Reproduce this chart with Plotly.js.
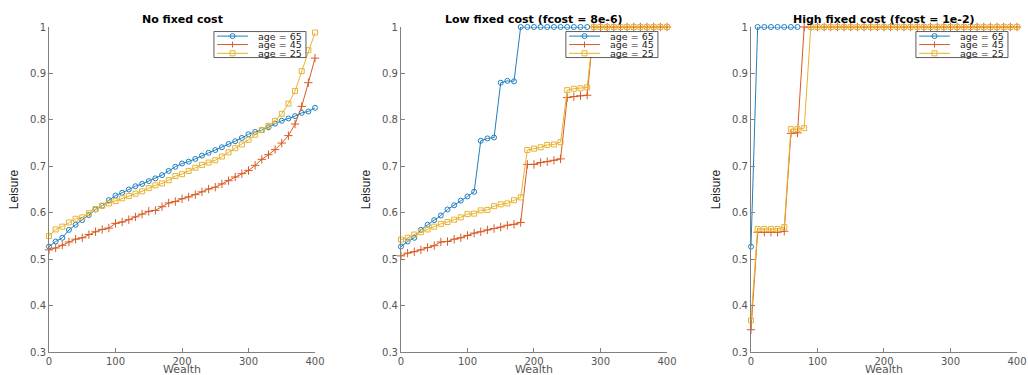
<!DOCTYPE html>
<html>
<head>
<meta charset="utf-8">
<script src="https://cdn.plot.ly/plotly-3.0.1.min.js"></script>
<style>html,body{margin:0;padding:0;background:#fff;}#chart{width:1028px;height:375px;}</style>
</head>
<body>
<div id="chart"></div>
<script>
// ---- data ----
const wealth = [0,10,20,30,40,50,60,70,80,90,100,110,120,130,140,150,160,170,180,190,200,210,220,230,240,250,260,270,280,290,300,310,320,330,340,350,360,370,380,390,400];

const seriesNames = ['age = 65', 'age = 45', 'age = 25'];
const panelTitles = ['No fixed cost', 'Low fixed cost (fcost = 8e-6)', 'High fixed cost (fcost = 1e-2)'];
const xTitle = 'Wealth';
const yTitle = 'Leisure';
const xTickVals = [0, 100, 200, 300, 400];
const xTickText = ['0', '100', '200', '300', '400'];
const yTickVals = [0.3, 0.4, 0.5, 0.6, 0.7, 0.8, 0.9, 1];
const yTickText = ['0.3', '0.4', '0.5', '0.6', '0.7', '0.8', '0.9', '1'];

// No fixed cost
const noCost65 = [0.527,0.538,0.546,0.563,0.574,0.584,0.595,0.607,0.615,0.627,0.637,0.643,0.650,0.657,0.662,0.668,0.674,0.681,0.690,0.699,0.706,0.710,0.716,0.723,0.729,0.735,0.741,0.748,0.754,0.761,0.769,0.774,0.778,0.784,0.792,0.798,0.803,0.808,0.815,0.818,0.826];
const noCost45 = [0.520,0.524,0.530,0.537,0.543,0.546,0.553,0.559,0.564,0.567,0.577,0.580,0.585,0.591,0.597,0.603,0.605,0.613,0.621,0.624,0.630,0.634,0.639,0.645,0.651,0.655,0.662,0.669,0.677,0.684,0.691,0.702,0.715,0.725,0.736,0.750,0.766,0.791,0.829,0.880,0.933];
const noCost25 = [0.550,0.564,0.570,0.579,0.587,0.590,0.599,0.608,0.615,0.620,0.625,0.631,0.636,0.641,0.646,0.653,0.659,0.663,0.670,0.679,0.683,0.690,0.697,0.703,0.708,0.713,0.721,0.730,0.739,0.747,0.757,0.768,0.778,0.787,0.798,0.813,0.835,0.862,0.905,0.950,0.988];

// Low fixed cost
const lowWealth65 = [0,10,20,30,40,50,60,70,80,90,100,110,120,130,140,150,160,170,180,190,200,210,220,230,240,250,260,270,280];
const lowCost65 = [0.527,0.538,0.546,0.563,0.574,0.584,0.594,0.607,0.616,0.626,0.635,0.645,0.755,0.760,0.762,0.880,0.884,0.883,1,1,1,1,1,1,1,1,1,1,1];
const lowCost45 = [0.507,0.513,0.516,0.520,0.525,0.529,0.537,0.538,0.543,0.546,0.551,0.556,0.559,0.563,0.566,0.569,0.573,0.575,0.579,0.704,0.704,0.708,0.710,0.713,0.716,0.848,0.850,0.852,0.853,1,1,1,1,1,1,1,1,1,1,1,1];
const lowCost25 = [0.542,0.546,0.553,0.558,0.564,0.570,0.576,0.580,0.585,0.590,0.597,0.598,0.605,0.606,0.614,0.618,0.620,0.627,0.633,0.735,0.738,0.741,0.746,0.747,0.752,0.864,0.867,0.868,0.870,1,1,1,1,1,1,1,1,1,1,1,1];

// High fixed cost
const highWealth65 = [0,10,20,30,40,50,60,70];
const highCost65 = [0.527,1,1,1,1,1,1,1];
const highCost45 = [0.348,0.558,0.558,0.558,0.558,0.560,0.771,0.772,1,1,1,1,1,1,1,1,1,1,1,1,1,1,1,1,1,1,1,1,1,1,1,1,1,1,1,1,1,1,1,1,1];
const highCost25 = [0.368,0.565,0.565,0.565,0.565,0.569,0.780,0.780,0.782,1,1,1,1,1,1,1,1,1,1,1,1,1,1,1,1,1,1,1,1,1,1,1,1,1,1,1,1,1,1,1,1];

// ---- styling ----
const colors = ['#1f7fc0', '#d95b24', '#e8b32e'];
const symbols = ['circle-open', 'cross-thin-open', 'square-open'];
const markerSizes = [5, 6, 5];
const axisGrey = '#808080';
const tickFontColor = '#555555';

const panels = [
  {x: [wealth, wealth, wealth], y: [noCost65, noCost45, noCost25]},
  {x: [lowWealth65, wealth, wealth], y: [lowCost65, lowCost45, lowCost25]},
  {x: [highWealth65, wealth, wealth], y: [highCost65, highCost45, highCost25]}
];

const traces = [];
panels.forEach((p, pi) => {
  const sfx = pi === 0 ? '' : String(pi + 1);
  for (let s = 0; s < 3; s++) {
    traces.push({
      type: 'scatter', mode: 'lines+markers',
      x: p.x[s], y: p.y[s], name: seriesNames[s],
      xaxis: 'x' + sfx, yaxis: 'y' + sfx,
      cliponaxis: false, showlegend: false,
      line: {color: colors[s], width: 1},
      marker: {symbol: symbols[s], size: markerSizes[s], color: colors[s], line: {color: colors[s], width: 1}}
    });
  }
});

const plotW = 266, plotH = 325;
const domains = [[0, 0.2748], [0.3636, 0.6384], [0.7252, 1.0]];

const layout = {
  width: 1028, height: 375,
  margin: {l: 49, r: 11, t: 27, b: 23, pad: 0},
  paper_bgcolor: '#ffffff', plot_bgcolor: '#ffffff',
  showlegend: false,
  font: {family: 'DejaVu Sans', size: 10, color: tickFontColor},
  shapes: [], annotations: []
};

domains.forEach((d, pi) => {
  const sfx = pi === 0 ? '' : String(pi + 1);
  layout['xaxis' + sfx] = {
    domain: d, range: [0, 400], anchor: 'y' + sfx,
    tickvals: xTickVals, ticktext: xTickText,
    ticks: 'inside', ticklen: 4, tickwidth: 1, tickcolor: axisGrey,
    showline: true, linecolor: axisGrey, linewidth: 1, mirror: false,
    showgrid: false, zeroline: false, automargin: false,
    tickfont: {family: 'DejaVu Sans', size: 10, color: tickFontColor}
  };
  layout['yaxis' + sfx] = {
    domain: [0, 1], range: [0.3, 1], anchor: 'x' + sfx,
    tickvals: yTickVals, ticktext: yTickText,
    ticks: 'inside', ticklen: 4, tickwidth: 1, tickcolor: axisGrey,
    showline: true, linecolor: axisGrey, linewidth: 1, mirror: false,
    showgrid: false, zeroline: false, automargin: false,
    tickfont: {family: 'DejaVu Sans', size: 10, color: tickFontColor},
    title: {text: yTitle, standoff: 8, font: {family: 'Liberation Sans Narrow, Liberation Sans, sans-serif', size: 12, color: '#222222'}}
  };

  const xr = 'x' + sfx + ' domain', yr = 'y' + sfx + ' domain';
  // subplot title
  layout.annotations.push({
    xref: xr, yref: yr, x: 0.5, y: 1.0237, xanchor: 'center', yanchor: 'middle',
    text: panelTitles[pi], showarrow: false,
    font: {family: 'DejaVu Sans', size: 11, color: '#000000', weight: 'bold'}
  });
  // x axis title
  layout.annotations.push({
    xref: xr, yref: yr, x: 0.5, y: -0.053, xanchor: 'center', yanchor: 'middle',
    text: xTitle, showarrow: false, borderpad: 0,
    font: {family: 'DejaVu Sans', size: 11, color: '#555555'}
  });

  // compact legend box
  layout.shapes.push({type: 'rect', xref: xr, yref: yr, x0: 0.620, x1: 0.966, y0: 0.906, y1: 0.986,
    line: {color: '#333333', width: 0.8}, fillcolor: '#ffffff', layer: 'above'});
  const rowY = [0.972, 0.946, 0.919];
  const mx = 0.690, hx = 2.5 / plotW, hy = 2.5 / plotH;
  for (let s = 0; s < 3; s++) {
    const yc = rowY[s];
    layout.shapes.push({type: 'line', xref: xr, yref: yr, x0: 0.632, x1: 0.748, y0: yc, y1: yc,
      line: {color: colors[s], width: 1}, layer: 'above'});
    if (s === 0) {
      layout.shapes.push({type: 'circle', xref: xr, yref: yr, x0: mx - hx, x1: mx + hx, y0: yc - hy, y1: yc + hy,
        line: {color: colors[s], width: 1}, fillcolor: 'rgba(0,0,0,0)', layer: 'above'});
    } else if (s === 1) {
      layout.shapes.push({type: 'line', xref: xr, yref: yr, x0: mx, x1: mx, y0: yc - hy * 1.2, y1: yc + hy * 1.2,
        line: {color: colors[s], width: 1}, layer: 'above'});
    } else {
      layout.shapes.push({type: 'rect', xref: xr, yref: yr, x0: mx - hx, x1: mx + hx, y0: yc - hy, y1: yc + hy,
        line: {color: colors[s], width: 1}, fillcolor: 'rgba(0,0,0,0)', layer: 'above'});
    }
    layout.annotations.push({
      xref: xr, yref: yr, x: 0.778, y: yc, xanchor: 'left', yanchor: 'middle',
      text: seriesNames[s], showarrow: false,
      font: {family: 'DejaVu Sans', size: 9.5, color: '#262626'}
    });
  }
});

Plotly.newPlot('chart', traces, layout, {displayModeBar: false, staticPlot: true});
</script>
</body>
</html>
